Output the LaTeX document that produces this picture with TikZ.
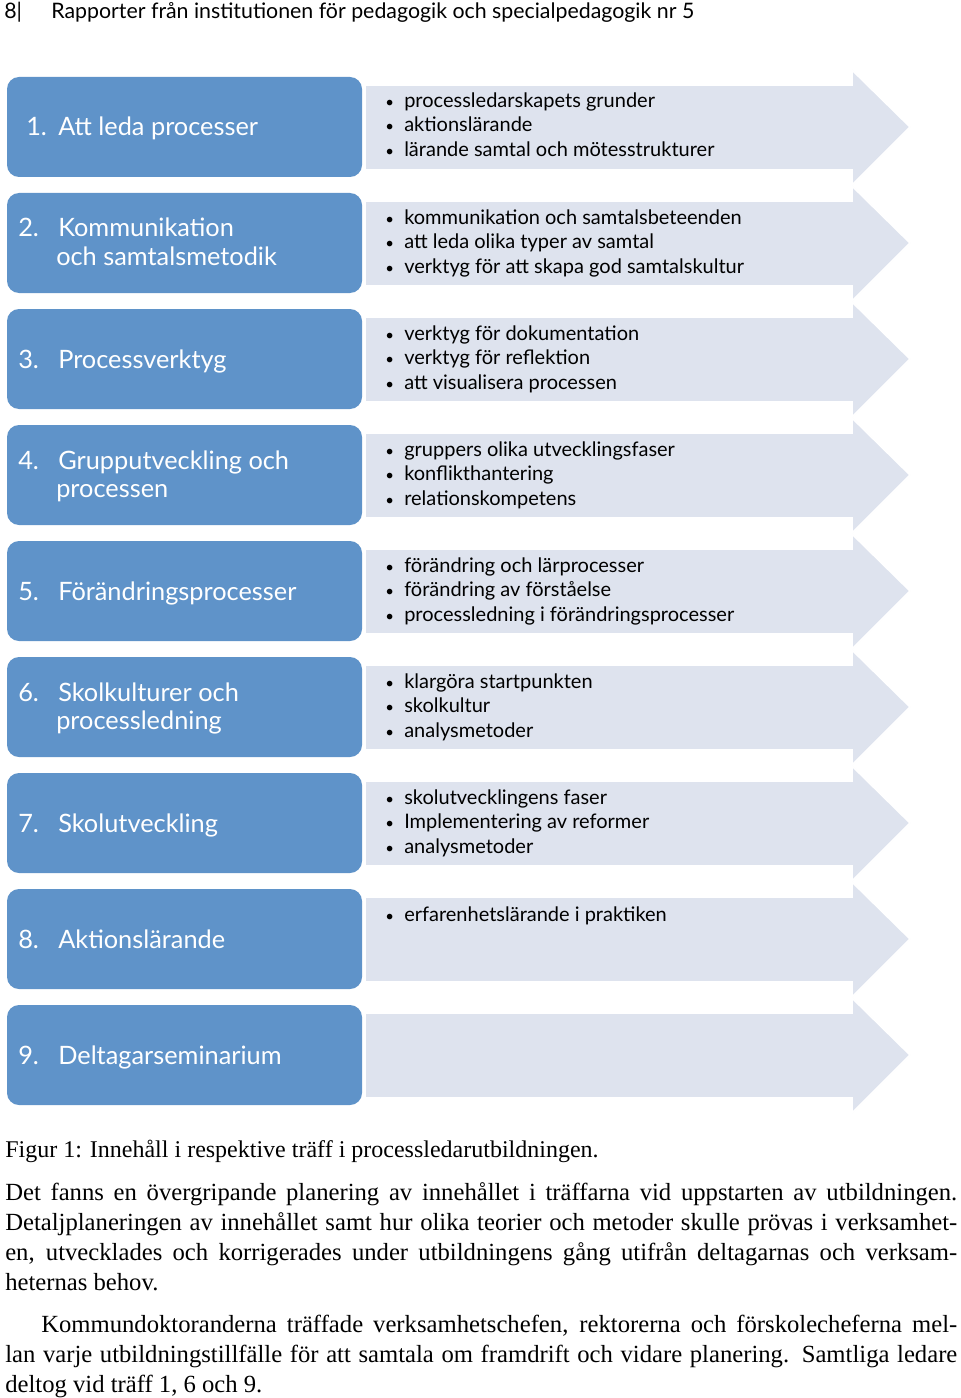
\documentclass[tikz,border=0pt]{standalone}
\usepackage{fontspec}
\setmainfont{Liberation Serif}
\newfontfamily\gill{Lato}
\begin{document}
\begin{tikzpicture}[x=0.75pt,y=-0.75pt,
  rowbox/.style={fill=boxblue,draw=none,rounded corners=9pt},
  arr/.style={fill=arrfill,draw=white,line width=1.2pt},
  lab/.style={anchor=base west,text=white,font=\gill\fontsize{19}{23}\selectfont,inner sep=0},
  blt/.style={anchor=base west,font=\gill\fontsize{15}{17}\selectfont,inner sep=0},
  para/.style={anchor=north west,inner sep=0,text width=714pt,align=justify,font=\fontsize{18.5}{22.5}\selectfont}]
\definecolor{boxblue}{HTML}{5F93C9}
\definecolor{arrfill}{HTML}{DEE3EE}
\useasboundingbox (0,0) rectangle (960,1398);
\node[anchor=base west,inner sep=0,font=\gill\fontsize{16}{18}\selectfont] (hdr) at (4,19) {8|\hspace{22pt}Rapporter från institutionen för pedagogik och specialpedagogik nr 5};
\foreach \i in {0,...,8}{
  \pgfmathsetmacro\t{77+116*\i}
  \draw[arr] (365,\t+8) -- (852,\t+8) -- (852,\t-7) -- (910,\t+50) -- (852,\t+108) -- (852,\t+93) -- (365,\t+93) -- cycle;
}
\foreach \i in {0,...,8}{
  \pgfmathsetmacro\t{77+116*\i}
  \path[rowbox] (7,\t) rectangle (362,\t+100);
}
\def\one#1#2#3{\node[lab] at (18,#1+59) {#2.}; \node[lab] at (58,#1+59) {#3};}
\def\two#1#2#3#4{\node[lab] at (18,#1+44) {#2.}; \node[lab] at (58,#1+44) {#3}; \node[lab] at (56,#1+72) {#4};}
\def\bl#1#2{\node[blt] at (385,#1) {\scalebox{0.75}{•}}; \node[blt] at (404,#1) {#2};}
\node[lab] (l1) at (26,136) {1.}; \node[lab] at (58,136) {Att leda processer};
\two{193}{2}{Kommunikation}{och samtalsmetodik}
\one{309}{3}{Processverktyg}
\two{425}{4}{Grupputveckling och}{processen}
\one{541}{5}{Förändringsprocesser}
\two{657}{6}{Skolkulturer och}{processledning}
\one{773}{7}{Skolutveckling}
\one{889}{8}{Aktionslärande}
\one{1005}{9}{Deltagarseminarium}
\bl{108}{processledarskapets grunder}
\bl{132}{aktionslärande}
\bl{157}{lärande samtal och mötesstrukturer}
\bl{224}{kommunikation och samtalsbeteenden}
\bl{248}{att leda olika typer av samtal}
\bl{273}{verktyg för att skapa god samtalskultur}
\bl{340}{verktyg för dokumentation}
\bl{364}{verktyg för reflektion}
\bl{389}{att visualisera processen}
\bl{456}{gruppers olika utvecklingsfaser}
\bl{480}{konflikthantering}
\bl{505}{relationskompetens}
\bl{572}{förändring och lärprocesser}
\bl{596}{förändring av förståelse}
\bl{621}{processledning i förändringsprocesser}
\bl{688}{klargöra startpunkten}
\bl{712}{skolkultur}
\bl{737}{analysmetoder}
\bl{804}{skolutvecklingens faser}
\bl{828}{Implementering av reformer}
\bl{853}{analysmetoder}
\bl{921}{erfarenhetslärande i praktiken}
\node[anchor=base west,inner sep=0,font=\fontsize{18}{18}\selectfont] (cap) at (5,1157) {Figur 1: Innehåll i respektive träff i processledarutbildningen.};
\node[para] (p1) at (5,1182) {Det fanns en övergripande planering av innehållet i träffarna vid uppstarten av utbildningen.\linebreak Detaljplaneringen av innehållet samt hur olika teorier och metoder skulle prövas i verksamhet-\linebreak en, utvecklades och korrigerades under utbildningens gång utifrån deltagarnas och verksam-\linebreak heternas behov.};
\node[para] (p2) at (5,1315) {\hspace*{27pt}Kommundoktoranderna träffade verksamhetschefen, rektorerna och förskolecheferna mel-\linebreak lan varje utbildningstillfälle för att samtala om framdrift och vidare planering. Samtliga ledare\linebreak deltog vid träff 1, 6 och 9.};
\end{tikzpicture}
\end{document}
